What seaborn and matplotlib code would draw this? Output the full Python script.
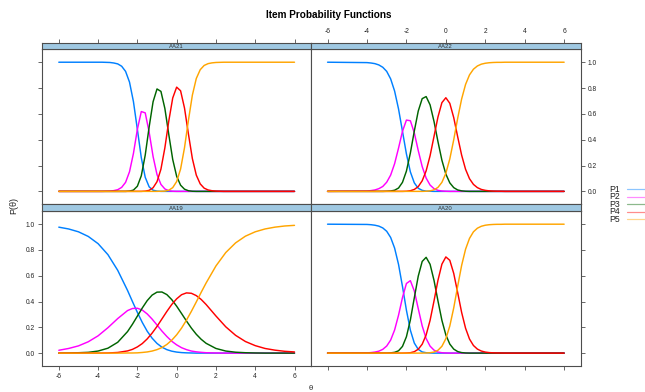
import matplotlib
matplotlib.use("Agg")
import matplotlib.pyplot as plt
from matplotlib.lines import Line2D
from matplotlib.ticker import FormatStrFormatter
import pandas as pd
import seaborn as sns

# ---------------- data ----------------
categories = ["P1", "P2", "P3", "P4", "P5"]
items = ["AA21", "AA22", "AA19", "AA20"]
x_ticks = [-6, -4, -2, 0, 2, 4, 6]
y_ticks = [0.0, 0.2, 0.4, 0.6, 0.8, 1.0]

theta_steep = [-6.0, -4.0, -3.8, -3.6, -3.4, -3.2, -3.0, -2.8, -2.6, -2.4, -2.2,
               -2.0, -1.8, -1.6, -1.4, -1.2, -1.0, -0.8, -0.6, -0.4, -0.2, 0.0,
               0.2, 0.4, 0.6, 0.8, 1.0, 1.2, 1.4, 1.6, 1.8, 2.0, 2.2, 2.4, 2.6,
               2.8, 3.0, 6.0]
theta_aa19 = [-6.0, -5.5, -5.0, -4.5, -4.0, -3.5, -3.0, -2.5, -2.25, -2.0, -1.75,
              -1.5, -1.25, -1.0, -0.75, -0.5, -0.25, 0.0, 0.25, 0.5, 0.75, 1.0,
              1.25, 1.5, 2.0, 2.5, 3.0, 3.5, 4.0, 4.5, 5.0, 5.5, 6.0]

aa21_p1 = [1.000, 1.000, 1.000, 0.999, 0.998, 0.994, 0.987, 0.969, 0.929, 0.846, 0.695,
           0.480, 0.261, 0.109, 0.035, 0.009, 0.002, 0.000, 0.000, 0.000, 0.000, 0.000,
           0.000, 0.000, 0.000, 0.000, 0.000, 0.000, 0.000, 0.000, 0.000, 0.000, 0.000,
           0.000, 0.000, 0.000, 0.000, 0.000]
aa21_p2 = [0.000, 0.000, 0.000, 0.001, 0.002, 0.006, 0.013, 0.031, 0.070, 0.152, 0.294,
           0.480, 0.618, 0.608, 0.458, 0.270, 0.130, 0.054, 0.019, 0.005, 0.001, 0.000,
           0.000, 0.000, 0.000, 0.000, 0.000, 0.000, 0.000, 0.000, 0.000, 0.000, 0.000,
           0.000, 0.000, 0.000, 0.000, 0.000]
aa21_p3 = [0.000, 0.000, 0.000, 0.000, 0.000, 0.000, 0.000, 0.000, 0.000, 0.002, 0.010,
           0.040, 0.121, 0.281, 0.499, 0.694, 0.793, 0.774, 0.642, 0.440, 0.247, 0.117,
           0.048, 0.017, 0.005, 0.001, 0.000, 0.000, 0.000, 0.000, 0.000, 0.000, 0.000,
           0.000, 0.000, 0.000, 0.000, 0.000]
aa21_p4 = [0.000, 0.000, 0.000, 0.000, 0.000, 0.000, 0.000, 0.000, 0.000, 0.000, 0.000,
           0.000, 0.000, 0.002, 0.008, 0.028, 0.075, 0.172, 0.337, 0.545, 0.723, 0.807,
           0.779, 0.645, 0.444, 0.254, 0.126, 0.058, 0.025, 0.011, 0.005, 0.002, 0.001,
           0.000, 0.000, 0.000, 0.000, 0.000]
aa21_p5 = [0.000, 0.000, 0.000, 0.000, 0.000, 0.000, 0.000, 0.000, 0.000, 0.000, 0.000,
           0.000, 0.000, 0.000, 0.000, 0.000, 0.000, 0.001, 0.002, 0.009, 0.029, 0.076,
           0.173, 0.338, 0.551, 0.745, 0.874, 0.942, 0.975, 0.989, 0.995, 0.998, 0.999,
           1.000, 1.000, 1.000, 1.000, 1.000]

aa22_p1 = [1.000, 0.997, 0.994, 0.989, 0.979, 0.961, 0.929, 0.871, 0.777, 0.638, 0.465,
           0.290, 0.151, 0.066, 0.024, 0.008, 0.002, 0.001, 0.000, 0.000, 0.000, 0.000,
           0.000, 0.000, 0.000, 0.000, 0.000, 0.000, 0.000, 0.000, 0.000, 0.000, 0.000,
           0.000, 0.000, 0.000, 0.000, 0.000]
aa22_p2 = [0.000, 0.003, 0.006, 0.011, 0.021, 0.038, 0.071, 0.126, 0.214, 0.335, 0.465,
           0.552, 0.547, 0.453, 0.316, 0.192, 0.103, 0.049, 0.021, 0.008, 0.003, 0.001,
           0.000, 0.000, 0.000, 0.000, 0.000, 0.000, 0.000, 0.000, 0.000, 0.000, 0.000,
           0.000, 0.000, 0.000, 0.000, 0.000]
aa22_p3 = [0.000, 0.000, 0.000, 0.000, 0.000, 0.000, 0.001, 0.003, 0.009, 0.026, 0.070,
           0.157, 0.297, 0.467, 0.622, 0.718, 0.734, 0.670, 0.541, 0.385, 0.241, 0.134,
           0.066, 0.029, 0.011, 0.004, 0.001, 0.000, 0.000, 0.000, 0.000, 0.000, 0.000,
           0.000, 0.000, 0.000, 0.000, 0.000]
aa22_p4 = [0.000, 0.000, 0.000, 0.000, 0.000, 0.000, 0.000, 0.000, 0.000, 0.000, 0.000,
           0.001, 0.005, 0.015, 0.037, 0.082, 0.159, 0.276, 0.426, 0.576, 0.687, 0.725,
           0.682, 0.571, 0.423, 0.281, 0.171, 0.098, 0.054, 0.029, 0.015, 0.008, 0.004,
           0.002, 0.001, 0.001, 0.000, 0.000]
aa22_p5 = [0.000, 0.000, 0.000, 0.000, 0.000, 0.000, 0.000, 0.000, 0.000, 0.000, 0.000,
           0.000, 0.000, 0.000, 0.000, 0.000, 0.001, 0.004, 0.012, 0.031, 0.070, 0.140,
           0.251, 0.400, 0.566, 0.715, 0.828, 0.902, 0.946, 0.971, 0.985, 0.992, 0.996,
           0.998, 0.999, 0.999, 1.000, 1.000]

aa20_p1 = [1.000, 0.998, 0.996, 0.992, 0.985, 0.971, 0.945, 0.897, 0.815, 0.688, 0.517,
           0.333, 0.178, 0.078, 0.029, 0.009, 0.003, 0.001, 0.000, 0.000, 0.000, 0.000,
           0.000, 0.000, 0.000, 0.000, 0.000, 0.000, 0.000, 0.000, 0.000, 0.000, 0.000,
           0.000, 0.000, 0.000, 0.000, 0.000]
aa20_p2 = [0.000, 0.002, 0.004, 0.008, 0.015, 0.029, 0.055, 0.101, 0.179, 0.294, 0.431,
           0.540, 0.562, 0.482, 0.345, 0.211, 0.113, 0.054, 0.023, 0.008, 0.003, 0.001,
           0.000, 0.000, 0.000, 0.000, 0.000, 0.000, 0.000, 0.000, 0.000, 0.000, 0.000,
           0.000, 0.000, 0.000, 0.000, 0.000]
aa20_p3 = [0.000, 0.000, 0.000, 0.000, 0.000, 0.000, 0.000, 0.002, 0.006, 0.018, 0.052,
           0.127, 0.257, 0.429, 0.597, 0.711, 0.743, 0.689, 0.564, 0.405, 0.254, 0.141,
           0.070, 0.031, 0.012, 0.004, 0.001, 0.000, 0.000, 0.000, 0.000, 0.000, 0.000,
           0.000, 0.000, 0.000, 0.000, 0.000]
aa20_p4 = [0.000, 0.000, 0.000, 0.000, 0.000, 0.000, 0.000, 0.000, 0.000, 0.000, 0.000,
           0.001, 0.003, 0.011, 0.030, 0.069, 0.141, 0.254, 0.405, 0.565, 0.690, 0.746,
           0.720, 0.618, 0.469, 0.316, 0.193, 0.109, 0.059, 0.031, 0.016, 0.008, 0.004,
           0.002, 0.001, 0.001, 0.000, 0.000]
aa20_p5 = [0.000, 0.000, 0.000, 0.000, 0.000, 0.000, 0.000, 0.000, 0.000, 0.000, 0.000,
           0.000, 0.000, 0.000, 0.000, 0.000, 0.001, 0.003, 0.008, 0.022, 0.053, 0.112,
           0.210, 0.351, 0.519, 0.680, 0.806, 0.890, 0.941, 0.969, 0.984, 0.992, 0.996,
           0.998, 0.999, 0.999, 1.000, 1.000]

aa19_p1 = [0.977, 0.963, 0.941, 0.905, 0.849, 0.764, 0.642, 0.486, 0.400, 0.316, 0.238,
           0.170, 0.116, 0.075, 0.046, 0.027, 0.015, 0.008, 0.004, 0.002, 0.001, 0.000,
           0.000, 0.000, 0.000, 0.000, 0.000, 0.000, 0.000, 0.000, 0.000, 0.000, 0.000]
aa19_p2 = [0.022, 0.036, 0.056, 0.088, 0.134, 0.197, 0.268, 0.330, 0.346, 0.348, 0.334,
           0.304, 0.264, 0.218, 0.171, 0.129, 0.092, 0.064, 0.042, 0.027, 0.016, 0.010,
           0.006, 0.003, 0.001, 0.000, 0.000, 0.000, 0.000, 0.000, 0.000, 0.000, 0.000]
aa19_p3 = [0.000, 0.001, 0.003, 0.006, 0.016, 0.038, 0.084, 0.167, 0.224, 0.287, 0.350,
           0.407, 0.450, 0.473, 0.474, 0.454, 0.415, 0.364, 0.307, 0.249, 0.194, 0.146,
           0.107, 0.076, 0.036, 0.016, 0.007, 0.003, 0.001, 0.000, 0.000, 0.000, 0.000]
aa19_p4 = [0.000, 0.000, 0.000, 0.000, 0.000, 0.001, 0.005, 0.017, 0.029, 0.048, 0.074,
           0.110, 0.155, 0.207, 0.265, 0.323, 0.377, 0.421, 0.453, 0.467, 0.464, 0.446,
           0.416, 0.377, 0.288, 0.204, 0.138, 0.090, 0.058, 0.036, 0.023, 0.014, 0.009]
aa19_p5 = [0.000, 0.000, 0.000, 0.000, 0.000, 0.000, 0.000, 0.001, 0.001, 0.002, 0.005,
           0.009, 0.016, 0.027, 0.043, 0.067, 0.100, 0.142, 0.194, 0.256, 0.324, 0.397,
           0.472, 0.544, 0.676, 0.780, 0.855, 0.907, 0.941, 0.963, 0.977, 0.986, 0.991]

panel_series = {
    "AA21": (theta_steep, [aa21_p1, aa21_p2, aa21_p3, aa21_p4, aa21_p5]),
    "AA22": (theta_steep, [aa22_p1, aa22_p2, aa22_p3, aa22_p4, aa22_p5]),
    "AA19": (theta_aa19, [aa19_p1, aa19_p2, aa19_p3, aa19_p4, aa19_p5]),
    "AA20": (theta_steep, [aa20_p1, aa20_p2, aa20_p3, aa20_p4, aa20_p5]),
}

# ---------------- style ----------------
sns.set_style("white")
plt.rcParams["font.family"] = ["Liberation Sans", "DejaVu Sans"]
plt.rcParams["axes.unicode_minus"] = False

palette = {"P1": "#0080ff", "P2": "#ff00ff", "P3": "#006400",
           "P4": "#ff0000", "P5": "#ffa500"}
frame_col = "#4d4d4d"
strip_col = "#9fc8e2"
text_col = "#222222"

W, H = 645, 392
fig = plt.figure(figsize=(W / 100, H / 100), dpi=100)
fig.patch.set_facecolor("white")


def rect(x0, y0, x1, y1):
    return [x0 / W, 1 - y1 / H, (x1 - x0) / W, (y1 - y0) / H]


col_x = [(42.3, 311.0), (311.0, 580.7)]
row_y = [((42.7, 49.3), (49.3, 204.3)), ((204.3, 211.3), (211.3, 366.0))]
layout = {"AA21": (0, 0), "AA22": (0, 1), "AA19": (1, 0), "AA20": (1, 1)}
xlim = (-6.84, 6.84)
ylim = (-0.1, 1.1)
tick_kw = dict(direction="out", length=3.0, width=0.6, colors=frame_col,
               labelsize=4.8, labelcolor=text_col, pad=2.2)

for name in items:
    r, c = layout[name]
    (sy0, sy1), (py0, py1) = row_y[r]
    x0, x1 = col_x[c]
    ax = fig.add_axes(rect(x0, py0, x1, py1))
    sax = fig.add_axes(rect(x0, sy0, x1, sy1))

    theta, series = panel_series[name]
    df = pd.concat([pd.DataFrame({"theta": theta, "P": vals, "cat": cat})
                    for cat, vals in zip(categories, series)], ignore_index=True)
    sns.lineplot(data=df, x="theta", y="P", hue="cat", hue_order=categories,
                 palette=palette, ax=ax, legend=False, linewidth=1.05,
                 estimator=None)

    ax.set_xlim(xlim)
    ax.set_ylim(ylim)
    ax.set_xlabel("")
    ax.set_ylabel("")
    ax.set_xticks(x_ticks)
    ax.set_yticks(y_ticks)
    ax.yaxis.set_major_formatter(FormatStrFormatter("%.1f"))
    ax.tick_params(axis="both", **tick_kw)
    if r == 0:
        ax.tick_params(axis="x", bottom=False, labelbottom=False, top=False, labeltop=False)
    else:
        ax.tick_params(axis="x", bottom=True, labelbottom=(c == 0), top=False, labeltop=False)
    if c == 0:
        ax.tick_params(axis="y", left=True, labelleft=(r == 1), right=False, labelright=False)
    else:
        ax.tick_params(axis="y", left=False, labelleft=False, right=True, labelright=(r == 0))

    sax.set_facecolor(strip_col)
    sax.set_xlim(xlim)
    sax.set_yticks([])
    if r == 0:
        sax.set_xticks(x_ticks)
        sax.tick_params(axis="x", **tick_kw)
        sax.tick_params(axis="x", top=True, labeltop=(c == 1), bottom=False, labelbottom=False)
    else:
        sax.set_xticks([])
    sax.text(0.5, 0.45, name, transform=sax.transAxes, ha="center", va="center",
             fontsize=4.3, color="#333333")

    for a in (ax, sax):
        for sp in a.spines.values():
            sp.set_color(frame_col)
            sp.set_linewidth(0.8)

fig.text(329 / W, 1 - 15 / H, "Item Probability Functions", ha="center", va="center",
         fontsize=7.2, fontweight="bold", color="black")
fig.text(14 / W, 1 - 206 / H, "P(θ)", rotation=90, ha="center", va="center",
         fontsize=6.5, color=text_col)
fig.text(311 / W, 1 - 388 / H, "θ", ha="center", va="center", fontsize=5.5,
         color=text_col)

legend_y = [189.3, 196.8, 204.3, 211.8, 219.3]
for cat, yy in zip(categories, legend_y):
    fig.text(609.0 / W, 1 - yy / H, cat, ha="left", va="center", fontsize=6.2,
             color=text_col)
    fig.add_artist(Line2D([627 / W, 645 / W], [1 - yy / H, 1 - yy / H],
                          color=palette[cat], alpha=0.45, linewidth=0.9,
                          transform=fig.transFigure))

fig.savefig("out.png", dpi=100)
